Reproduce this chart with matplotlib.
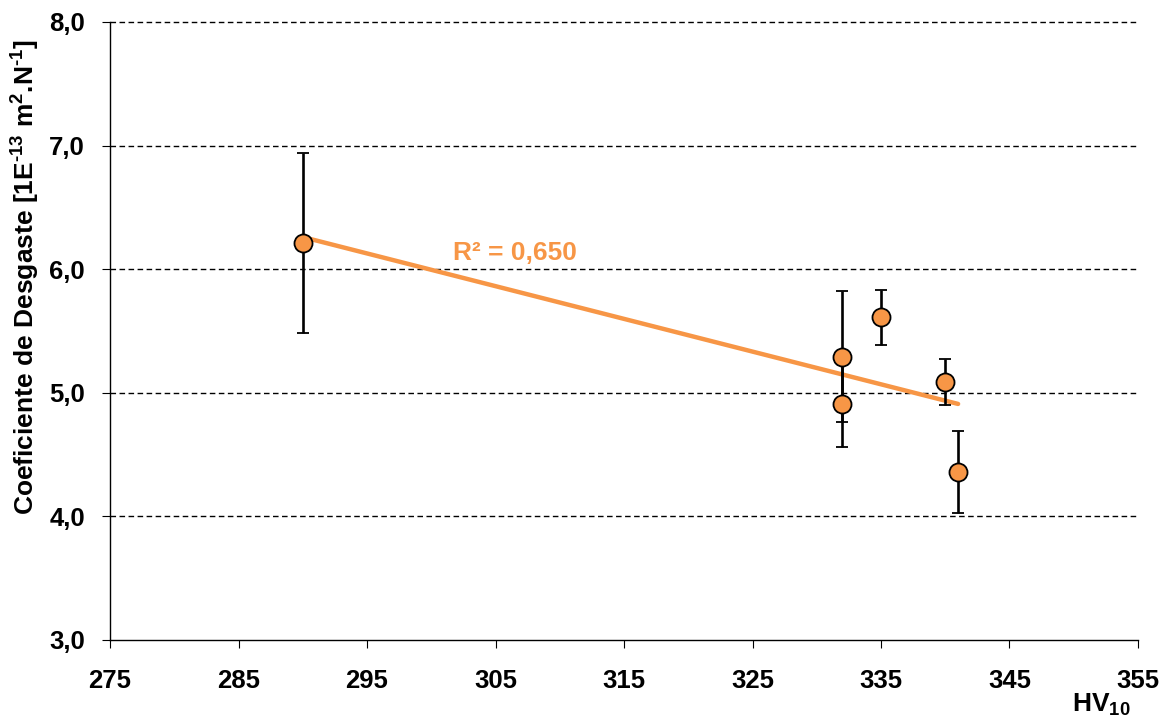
import numpy as np
import matplotlib
matplotlib.use("Agg")
import matplotlib.pyplot as plt

plt.rcParams['font.family'] = ['Liberation Sans', 'DejaVu Sans']
plt.rcParams['mathtext.fontset'] = 'custom'
plt.rcParams['mathtext.rm'] = 'Liberation Sans:bold'
plt.rcParams['mathtext.bf'] = 'Liberation Sans:bold'
plt.rcParams['mathtext.it'] = 'Liberation Sans:bold'

# Hardness (HV10) vs wear coefficient with standard deviation
hv = [290, 332, 332, 335, 340, 341]
wear = [6.21, 5.29, 4.91, 5.61, 5.09, 4.36]
wear_err = [0.73, 0.53, 0.345, 0.225, 0.185, 0.33]
r2_value = 0.650

x_ticks = [275, 285, 295, 305, 315, 325, 335, 345, 355]
y_ticks = [3.0, 4.0, 5.0, 6.0, 7.0, 8.0]

orange = '#F79646'

fig = plt.figure(figsize=(11.63, 7.26), dpi=100)
ax = fig.add_axes([0.0946, 0.1185, 0.8839, 0.8512])

# linear trend
slope, intercept = np.polyfit(hv, wear, 1)
xs = np.array([min(hv), max(hv)])
ax.plot(xs, slope * xs + intercept, color=orange, lw=3.2, zorder=3,
        solid_capstyle='round')

ax.errorbar(hv, wear, yerr=wear_err, fmt='o', color='black', ecolor='black',
            elinewidth=1.9, capsize=4.5, capthick=1.9,
            markerfacecolor=orange, markeredgecolor='black',
            markeredgewidth=1.3, markersize=13, zorder=4)

ax.set_xlim(275, 355)
ax.set_ylim(3.0, 8.0)
ax.set_xticks(x_ticks)
ax.set_xticklabels([str(t) for t in x_ticks])
ax.set_yticks(y_ticks)
ax.set_yticklabels([f"{t:.1f}".replace('.', ',') for t in y_ticks])

for y in y_ticks[1:]:
    ax.axhline(y, color='black', lw=1.0, ls=(0, (4, 2.5)), zorder=1,
               clip_on=False)

for s in ['top', 'right']:
    ax.spines[s].set_visible(False)
ax.spines['left'].set_linewidth(1.0)
ax.spines['bottom'].set_linewidth(1.0)

ax.tick_params(axis='both', direction='out', length=6, width=0.8,
               labelsize=18.5)
ax.tick_params(axis='x', pad=15)
ax.tick_params(axis='y', pad=12)
for lab in ax.get_xticklabels() + ax.get_yticklabels():
    lab.set_fontweight('bold')

fig.text(26 / 1163, 1 - 277 / 726,
         r'Coeficiente de Desgaste [1E$^{\text{-13}}$ m$^{2}$.N$^{\text{-1}}$]',
         fontsize=19, fontweight='bold', rotation=90,
         ha='center', va='center')
fig.text(1072 / 1163, 1 - 712 / 726, r'HV$_{10}$', fontsize=19,
         fontweight='bold', ha='left', va='baseline')

ax.text(453 / 1163, 1 - 253 / 726, f"R² = {r2_value:.3f}".replace('.', ','),
        transform=fig.transFigure, color=orange, fontsize=19,
        fontweight='bold', ha='left', va='center')

fig.savefig('out.png', dpi=100)
